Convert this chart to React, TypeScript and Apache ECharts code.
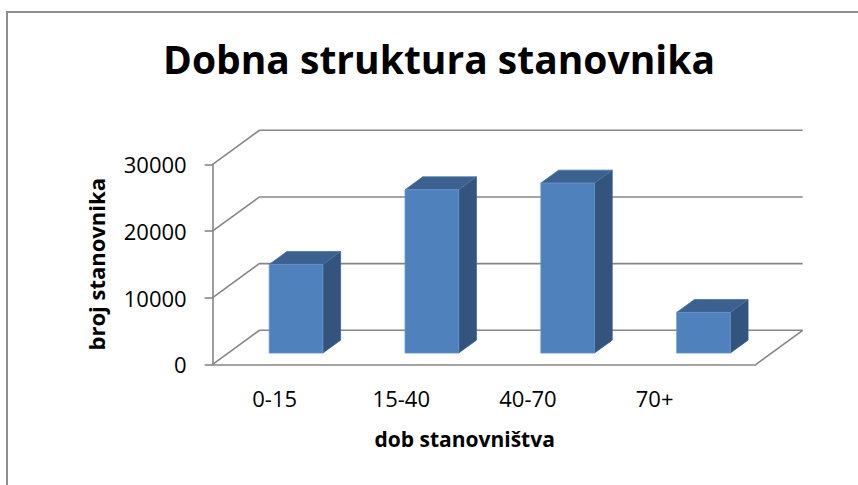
import React, { useEffect, useRef } from "react";
import * as echarts from "echarts";

const categories = ["0-15", "15-40", "40-70", "70+"];
const populations = [13300, 24500, 25500, 6100];
const yTicks = [0, 10000, 20000, 30000];

const titleText = "Dobna struktura stanovnika";
const yAxisTitle = "broj stanovnika";
const xAxisTitle = "dob stanovništva";

const DX = 46.7;
const DY = -34;
const F0 = 0.33;
const F1 = 0.71;
const BAR_RATIO = 0.395;
const GRID_COLOR = "#868686";
const FONT = "'Open Sans', sans-serif";

export default function App() {
  const ref = useRef<HTMLDivElement>(null);
  useEffect(() => {
    if (!ref.current) return;
    const chart = echarts.init(ref.current, undefined, { renderer: "svg" });
    const option: any = {
      animation: false,
      backgroundColor: "#ffffff",
      title: {
        text: titleText,
        left: 439,
        top: 39,
        padding: 0,
        textAlign: "center",
        textStyle: { fontFamily: FONT, fontWeight: "bold", fontSize: 39, color: "#000" },
      },
      graphic: [
        {
          type: "rect",
          shape: { x: 7, y: 12, width: 900, height: 520 },
          style: { fill: "none", stroke: "#8e8e8e", lineWidth: 2 },
          silent: true,
          z: -10,
        },
      ],
      grid: [
        { left: 212.7, top: 164.3, width: 543.3, height: 200 },
        { left: 211.3, top: 164.3, width: 506.7, height: 200 },
      ],
      xAxis: [
        {
          type: "category",
          gridIndex: 0,
          data: categories,
          axisLine: { show: true, lineStyle: { color: GRID_COLOR, width: 1.6 } },
          axisTick: { show: false },
          axisLabel: { show: false },
        },
        {
          type: "category",
          gridIndex: 1,
          data: categories,
          axisLine: { show: false },
          axisTick: { show: false },
          axisLabel: { fontFamily: FONT, fontSize: 22, color: "#000", margin: 23 },
          name: xAxisTitle,
          nameLocation: "middle",
          nameGap: 64,
          nameTextStyle: { fontFamily: FONT, fontWeight: "bold", fontSize: 21, color: "#000" },
        },
      ],
      yAxis: [
        {
          type: "value",
          gridIndex: 0,
          min: 0,
          max: 30000,
          interval: 10000,
          axisLine: { show: true, lineStyle: { color: GRID_COLOR, width: 1.6 } },
          axisTick: { show: true, length: 8, lineStyle: { color: GRID_COLOR, width: 1.6 } },
          splitLine: { show: false },
          axisLabel: {
            fontFamily: FONT,
            fontSize: 22,
            color: "#000",
            margin: 26,
            formatter: (v: number) => String(v),
          },
          name: yAxisTitle,
          nameLocation: "middle",
          nameGap: 106,
          nameRotate: 90,
          nameTextStyle: { fontFamily: FONT, fontWeight: "bold", fontSize: 22, color: "#000" },
        },
        { type: "value", gridIndex: 1, show: false, min: 0, max: 30000 },
      ],
      series: [
        {
          type: "custom",
          xAxisIndex: 0,
          yAxisIndex: 0,
          silent: true,
          z: 1,
          data: yTicks.map((v) => [0, v]),
          renderItem: (params: any, api: any) => {
            const v = api.value(1);
            const y = api.coord([0, v])[1];
            const cs = params.coordSys;
            const x0 = cs.x;
            const x1 = cs.x + cs.width;
            const style = { stroke: GRID_COLOR, lineWidth: 1.6, fill: "none" };
            const children: any[] = [
              {
                type: "polyline",
                shape: { points: [[x0, y], [x0 + DX, y + DY], [x1 + DX, y + DY]] },
                style,
              },
            ];
            if (v === 0) {
              children.push({
                type: "line",
                shape: { x1: x1, y1: y, x2: x1 + DX, y2: y + DY },
                style,
              });
            }
            return { type: "group", children };
          },
        },
        {
          type: "custom",
          xAxisIndex: 0,
          yAxisIndex: 0,
          silent: true,
          z: 2,
          data: populations.map((v, i) => [i, v]),
          renderItem: (params: any, api: any) => {
            const i = api.value(0);
            const v = api.value(1);
            const top0 = api.coord([i, v]);
            const base0 = api.coord([i, 0]);
            const band = api.size([1, 0])[0];
            const w = band * BAR_RATIO;
            const ox = F0 * DX;
            const oy = F0 * DY;
            const bdx = (F1 - F0) * DX;
            const bdy = (F1 - F0) * DY;
            const left = top0[0] - w / 2 + ox;
            const right = left + w;
            const top = top0[1] + oy;
            const bottom = base0[1] + oy;
            return {
              type: "group",
              children: [
                {
                  type: "polygon",
                  shape: { points: [[right, top], [right + bdx, top + bdy], [right + bdx, bottom + bdy], [right, bottom]] },
                  style: { fill: "#33547c", stroke: "#3d6290", lineWidth: 0.8 },
                },
                {
                  type: "polygon",
                  shape: { points: [[left, top], [left + bdx, top + bdy], [right + bdx, top + bdy], [right, top]] },
                  style: { fill: "#3c6190", stroke: "#4a73a6", lineWidth: 0.8 },
                },
                {
                  type: "polygon",
                  shape: { points: [[left, top], [right, top], [right, bottom], [left, bottom]] },
                  style: { fill: "#4f81bd", stroke: "#6a95c9", lineWidth: 0.8 },
                },
              ],
            };
          },
        },
      ],
    };
    chart.setOption(option);
    return () => chart.dispose();
  }, []);
  return (
    <div
      ref={ref}
      style={{ position: "fixed", left: 0, top: 0, width: 858, height: 485, background: "#fff" }}
    />
  );
}
